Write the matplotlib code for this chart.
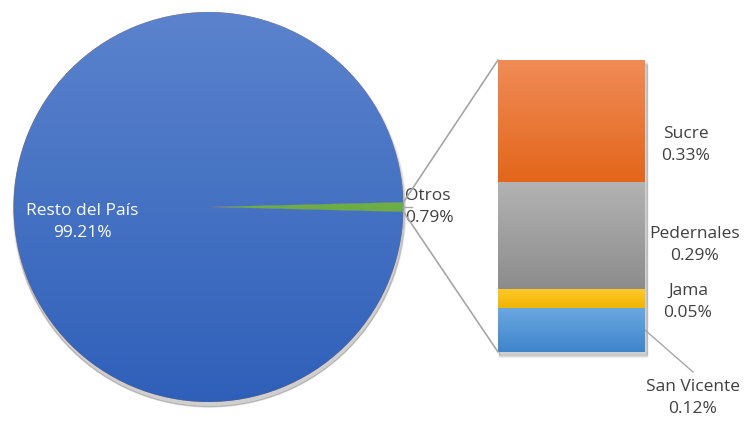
import numpy as np
import matplotlib.pyplot as plt
from matplotlib.colors import LinearSegmentedColormap
from matplotlib.patches import ConnectionPatch

plt.rcParams['font.family'] = ['Open Sans', 'DejaVu Sans']

# datos
pie_labels = ['Otros', 'Resto del País']
pie_values = [0.79, 99.21]
bar_labels = ['San Vicente', 'Jama', 'Pedernales', 'Sucre']
bar_values = [0.12, 0.05, 0.29, 0.33]

pie_grad = [('#76b74c', '#62a33d'), ('#5b83cd', '#2f60b9')]
bar_grad = [('#6aa8e0', '#3f85cc'), ('#ffc82a', '#f0b400'),
            ('#b3b3b3', '#8c8c8c'), ('#f08c57', '#e3661a')]
line_col = '#a6a6a6'
txt_col = '#404040'

W, H = 748, 422
fig = plt.figure(figsize=(W / 100, H / 100), dpi=100)
ax = fig.add_axes([0, 0, 1, 1])


def gradient_fill(axis, patch, top, bottom, extent):
    cmap = LinearSegmentedColormap.from_list('g', [bottom, top])
    grad = np.linspace(0, 1, 256).reshape(-1, 1)
    im = axis.imshow(grad, cmap=cmap, origin='lower', extent=extent,
                     aspect='auto', zorder=patch.get_zorder() + 0.1)
    im.set_clip_path(patch)


# pastel principal
cx, cy, r = 208.5, 215, 195
start = -pie_values[0] / sum(pie_values) * 360 / 2
# sombra suave
for k in range(8):
    sh = plt.Circle((cx + 1, cy - 3 - k * 0.4), r + 1.5 - k * 0.3,
                    color='black', alpha=0.025, zorder=0)
    ax.add_patch(sh)
wedges, _ = ax.pie(pie_values, center=(cx, cy), radius=r, startangle=start,
                   counterclock=True, frame=True)
for w, (top, bot) in zip(wedges, pie_grad):
    w.set_zorder(1)
    gradient_fill(ax, w, top, bot, [cx - r, cx + r, cy - r, cy + r])
ax.set_xlim(0, W)
ax.set_ylim(0, H)
ax.set_aspect('equal')
ax.axis('off')

ax.text(82, H - 222, f'{pie_labels[1]}\n{pie_values[1]:.2f}%', color='white',
        fontsize=12.5, ha='center', va='center', linespacing=1.45, zorder=5)
ax.text(405, H - 207, f'{pie_labels[0]}\n{pie_values[0]:.2f}%', color=txt_col,
        fontsize=12.5, ha='left', va='center', linespacing=1.45, zorder=5)

# barra de desglose
bx0, bx1, by0, by1 = 498, 645, H - 352, H - 60
for k in range(6):
    ax.add_patch(plt.Rectangle((bx0 + 1, by0 - 2 - k * 0.5), bx1 - bx0 + 1,
                               by1 - by0, color='black', alpha=0.03, zorder=0))
bax = fig.add_axes([bx0 / W, by0 / H, (bx1 - bx0) / W, (by1 - by0) / H])
total = sum(bar_values)
bax.set_xlim(0, 1)
bax.set_ylim(0, total)
bax.axis('off')
bottoms = np.concatenate([[0], np.cumsum(bar_values)[:-1]])
bars = bax.bar(0.5, bar_values, width=1, bottom=bottoms, zorder=1)
for b, (top, bot), b0, v in zip(bars, bar_grad, bottoms, bar_values):
    gradient_fill(bax, b, top, bot, [0, 1, b0, b0 + v])
bax.set_xlim(0, 1)
bax.set_ylim(0, total)

# etiquetas de la barra
lab_pos = [(693, 398), (688, 302), (695, 245), (686, 145)]
for (lx, ly), name, v in zip(lab_pos, bar_labels, bar_values):
    ax.text(lx, H - ly, f'{name}\n{v:.2f}%', color=txt_col, fontsize=12.5,
            ha='center', va='center', linespacing=1.45, zorder=5)
ax.plot([bx1, 693], [H - 330, H - 372], color=line_col, lw=1, zorder=3)

# líneas de conexión
half = np.deg2rad(-start)
for ang, yb in [(half, total), (-half, 0)]:
    p = (cx + r * np.cos(ang), cy + r * np.sin(ang))
    con = ConnectionPatch(xyA=p, coordsA=ax.transData, xyB=(0, yb),
                          coordsB=bax.transData, color=line_col, lw=1.2)
    fig.add_artist(con)
ax.plot([cx + r, cx + r + 9], [cy, cy], color=line_col, lw=1, zorder=3)

fig.savefig('out.png', dpi=100, facecolor='white')
